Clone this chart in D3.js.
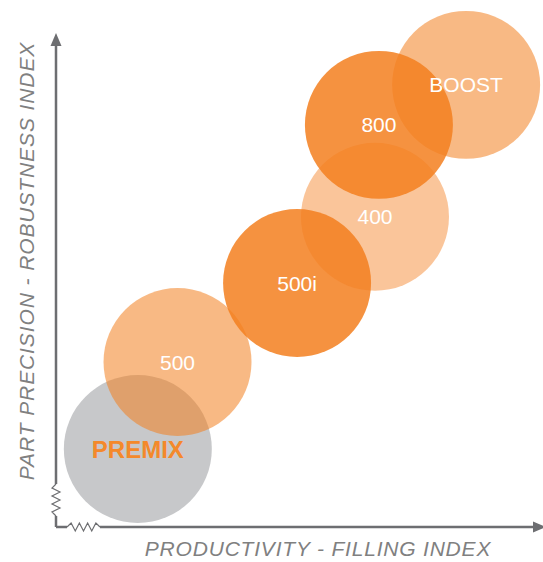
<!DOCTYPE html>
<html>
<head>
<meta charset="utf-8">
<script src="https://cdn.jsdelivr.net/npm/d3@7"></script>
<style>
  body { margin: 0; background: #fff; }
  svg { display: block; }
</style>
</head>
<body>
<div id="chart"></div>
<script>
// products, positions on the two indexes (0-100), bubble size and shade
var products = ["PREMIX", "500", "500i", "400", "BOOST", "800"];
var productivity = [16.7, 24.8, 49.2, 65.1, 83.7, 65.9];
var precision = [15.8, 33.4, 49.4, 62.8, 89.5, 81.4];
var bubbleSize = [15.1, 15.1, 15.1, 15.1, 15.1, 15.1];
var shade = ["grey", "light", "dark", "lighter", "light", "dark"];

var xTitle = "PRODUCTIVITY - FILLING INDEX";
var yTitle = "PART PRECISION - ROBUSTNESS INDEX";

var width = 543, height = 562;
var axisColor = "#6d6e71";

var svg = d3.select("#chart").append("svg")
	.attr("width", width)
	.attr("height", height);

var x = d3.scaleLinear().domain([0, 100]).range([56, 546]);
var y = d3.scaleLinear().domain([0, 100]).range([527, 33]);

var fills = {grey: "#c7c8ca", light: "#f37f1f", lighter: "#f37f1f", dark: "#f37f1f"};
var alphas = {grey: 1, light: 0.55, lighter: 0.45, dark: 0.85};

var data = products.map(function(p, i) {
	return {name: p, x: productivity[i], y: precision[i], r: bubbleSize[i], shade: shade[i]};
});

// bubbles
svg.append("g").selectAll("circle")
	.data(data)
	.enter().append("circle")
	.attr("cx", function(d) { return x(d.x); })
	.attr("cy", function(d) { return y(d.y); })
	.attr("r", function(d) { return x(d.r) - x(0); })
	.attr("fill", function(d) { return fills[d.shade]; })
	.attr("fill-opacity", function(d) { return alphas[d.shade]; });

// labels
svg.append("g").selectAll("text")
	.data(data)
	.enter().append("text")
	.attr("x", function(d) { return x(d.x); })
	.attr("y", function(d) { return y(d.y); })
	.attr("dy", "0.36em")
	.attr("text-anchor", "middle")
	.attr("font-family", "'Liberation Sans', Arial, sans-serif")
	.attr("font-size", function(d) { return d.shade == "grey" ? 24 : 21; })
	.attr("font-weight", function(d) { return d.shade == "grey" ? "bold" : "normal"; })
	.attr("fill", function(d) { return d.shade == "grey" ? "#f4892b" : "#fff"; })
	.text(function(d) { return d.name; });

// axes with break marks
var x0 = x(0), y0 = y(0);
function zigzag(n, len) {
	var pts = [];
	for (var i = 0; i <= n * 2; i++) pts.push([i * len / (n * 2), i == 0 || i == n * 2 ? 0 : (i % 2 ? -4 : 4)]);
	return pts;
}
var line = d3.line();

var axes = svg.append("g").attr("stroke", axisColor).attr("fill", "none");

// y axis
axes.append("path").attr("stroke-width", 2.5)
	.attr("d", line([[x0, y0], [x0, 516]]));
axes.append("path").attr("stroke-width", 1.2)
	.attr("d", line(zigzag(4, 32).map(function(p) { return [x0 + p[1], 516 - p[0]]; })));
axes.append("path").attr("stroke-width", 2.5)
	.attr("d", line([[x0, 484], [x0, y(100) + 12]]));
axes.append("path").attr("fill", axisColor).attr("stroke", "none")
	.attr("d", line([[x0 - 5.5, y(100) + 13], [x0, y(100)], [x0 + 5.5, y(100) + 13]]) + "Z");

// x axis
axes.append("path").attr("stroke-width", 2.5)
	.attr("d", line([[x0, y0], [67, y0]]));
axes.append("path").attr("stroke-width", 1.2)
	.attr("d", line(zigzag(4, 33).map(function(p) { return [67 + p[0], y0 + p[1]]; })));
axes.append("path").attr("stroke-width", 2.5)
	.attr("d", line([[100, y0], [x(100) - 12, y0]]));
axes.append("path").attr("fill", axisColor).attr("stroke", "none")
	.attr("d", line([[x(100) - 13, y0 - 5.5], [x(100), y0], [x(100) - 13, y0 + 5.5]]) + "Z");

// axis titles
svg.append("text")
	.attr("x", 318).attr("y", 556)
	.attr("text-anchor", "middle")
	.attr("font-family", "'Liberation Sans', Arial, sans-serif")
	.attr("font-style", "italic")
	.attr("font-size", 21)
	.attr("letter-spacing", 0.8)
	.attr("fill", "#808080")
	.text(xTitle);

svg.append("text")
	.attr("transform", "translate(34,261) rotate(-90)")
	.attr("text-anchor", "middle")
	.attr("font-family", "'Liberation Sans', Arial, sans-serif")
	.attr("font-style", "italic")
	.attr("font-size", 21)
	.attr("letter-spacing", 0.9)
	.attr("fill", "#808080")
	.text(yTitle);
</script>
</body>
</html>
